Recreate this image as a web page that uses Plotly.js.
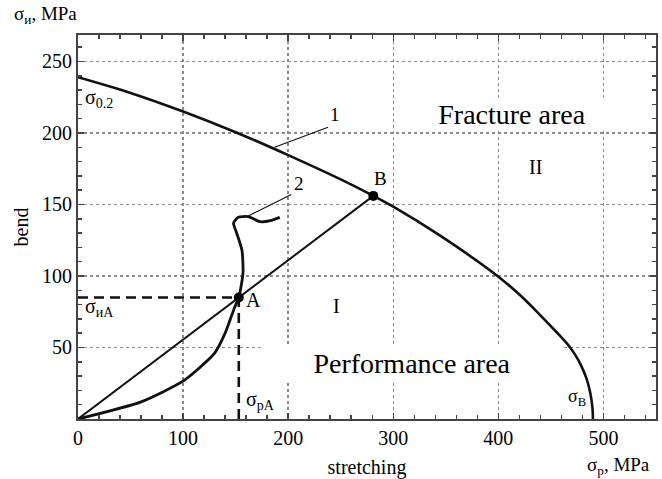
<!DOCTYPE html>
<html>
<head>
<meta charset="utf-8">
<script src="https://cdn.plot.ly/plotly-3.0.1.min.js"></script>
<style>html,body{margin:0;padding:0;background:#fff;}#chart{width:662px;height:479px;}</style>
</head>
<body>
<div id="chart"></div>
<script>
// Curve 1: limit curve (sigma_0.2 -> sigma_B)
const curve1X = [0, 50, 100, 150, 200, 250, 281, 300, 345, 400, 420, 440, 455, 465, 473, 479, 484, 487.5, 489.5, 490];
const curve1Y = [239, 228, 215, 200.5, 184.5, 167.5, 156, 148.5, 128, 99.5, 87, 72.5, 61, 53, 45, 37, 28, 18, 8, 0];
// Curve 2: loading path
const curve2X = [0, 60, 101, 130, 140, 149, 153, 157, 156, 151, 148, 152.5, 162, 173, 183, 192];
const curve2Y = [0, 12, 27, 46, 60, 78, 85, 102, 118, 130, 137, 141, 141.5, 138, 138.7, 141];
// Straight ray from origin through A to B
const rayX = [0, 153, 281];
const rayY = [0, 85, 156];
// Points A and B
const pointX = [153, 281];
const pointY = [85, 156];
// Leader lines for labels 1 and 2
const leader1X = [187, 238];
const leader1Y = [190, 204];
const leader2X = [162, 203];
const leader2Y = [142, 157];
// Ticks
const xTicks = [0, 100, 200, 300, 400, 500];
const yTicks = [50, 100, 150, 200, 250];

const serif = 'Liberation Serif, Times New Roman, serif';

const traces = [
  {x: curve1X, y: curve1Y, mode: 'lines', line: {color: '#111', width: 2.6, shape: 'spline', smoothing: 1}, hoverinfo: 'skip'},
  {x: curve2X, y: curve2Y, mode: 'lines', line: {color: '#111', width: 2.8, shape: 'spline', smoothing: 0.6}, hoverinfo: 'skip'},
  {x: rayX, y: rayY, mode: 'lines', line: {color: '#111', width: 2}, hoverinfo: 'skip'},
  {x: [0, pointX[0]], y: [pointY[0], pointY[0]], mode: 'lines', line: {color: '#111', width: 2.6, dash: '10px,6px'}, hoverinfo: 'skip'},
  {x: [pointX[0], pointX[0]], y: [0, pointY[0]], mode: 'lines', line: {color: '#111', width: 2.6, dash: '10px,6px'}, hoverinfo: 'skip'},
  {x: leader1X, y: leader1Y, mode: 'lines', line: {color: '#111', width: 1.2}, hoverinfo: 'skip'},
  {x: leader2X, y: leader2Y, mode: 'lines', line: {color: '#111', width: 1.2}, hoverinfo: 'skip'},
  {x: pointX, y: pointY, mode: 'markers', marker: {color: '#000', size: 10}, hoverinfo: 'skip'}
];

function ann(text, x, y, size, extra) {
  return Object.assign({text: text, x: x, y: y, xref: 'x', yref: 'y', showarrow: false,
    font: {family: serif, size: size, color: '#000'}}, extra || {});
}

const annotations = [
  ann('σ<sub>0.2</sub>', 5, 224, 20, {xanchor: 'left'}),
  ann('σ<sub>иA</sub>', 5, 78, 20, {xanchor: 'left'}),
  ann('A', 158, 83, 20, {xanchor: 'left'}),
  ann('σ<sub>pA</sub>', 158, 13, 20, {xanchor: 'left'}),
  ann('B', 288, 168, 19),
  ann('σ<sub>B</sub>', 475, 15, 18),
  ann('1', 244.5, 213, 19),
  ann('2', 210, 165, 19),
  ann('I', 246, 79, 20),
  ann('II', 435.5, 176.5, 20),
  ann('Fracture area', 413, 213, 28, {bgcolor: '#fff', width: 200, height: 30}),
  ann('Performance area', 317.6, 39.5, 28, {bgcolor: '#fff', width: 300, height: 34}),
  {text: 'σ<sub>и</sub>, MPa', xref: 'paper', yref: 'paper', x: -0.114, y: 1.052, xanchor: 'left', yanchor: 'middle',
   showarrow: false, font: {family: serif, size: 19, color: '#000'}},
  {text: 'σ<sub>p</sub>, MPa', xref: 'paper', yref: 'paper', x: 0.877, y: -0.122, xanchor: 'left', yanchor: 'middle',
   showarrow: false, font: {family: serif, size: 19, color: '#000'}}
];

const axisCommon = {
  showline: true, linecolor: '#444', linewidth: 2, mirror: 'allticks',
  ticks: 'inside', ticklen: 6, tickwidth: 1.5, tickcolor: '#444',
  showgrid: true, gridcolor: '#8a8a8a', griddash: 'dot', gridwidth: 1.5,
  zeroline: false, tickfont: {family: serif, size: 20, color: '#000'}
};

const layout = {
  width: 662, height: 479,
  margin: {l: 78, r: 6, t: 35, b: 60},
  paper_bgcolor: '#fff', plot_bgcolor: '#fff',
  showlegend: false,
  font: {family: serif, color: '#000'},
  xaxis: Object.assign({}, axisCommon, {
    range: [0, 550], tickvals: xTicks, ticktext: xTicks.map(String),
    minor: {dtick: 20, tick0: 0, ticks: 'inside', ticklen: 4, tickcolor: '#444', showgrid: false},
    title: {text: 'stretching', font: {family: serif, size: 20, color: '#000'}, standoff: 12}
  }),
  yaxis: Object.assign({}, axisCommon, {
    range: [0, 268.5], tickvals: yTicks, ticktext: yTicks.map(String),
    minor: {dtick: 10, tick0: 0, ticks: 'inside', ticklen: 4, tickcolor: '#444', showgrid: false},
    title: {text: 'bend', font: {family: serif, size: 20, color: '#000'}, standoff: 8}
  }),
  annotations: annotations
};

Plotly.newPlot('chart', traces, layout, {staticPlot: true, displayModeBar: false});
</script>
</body>
</html>
